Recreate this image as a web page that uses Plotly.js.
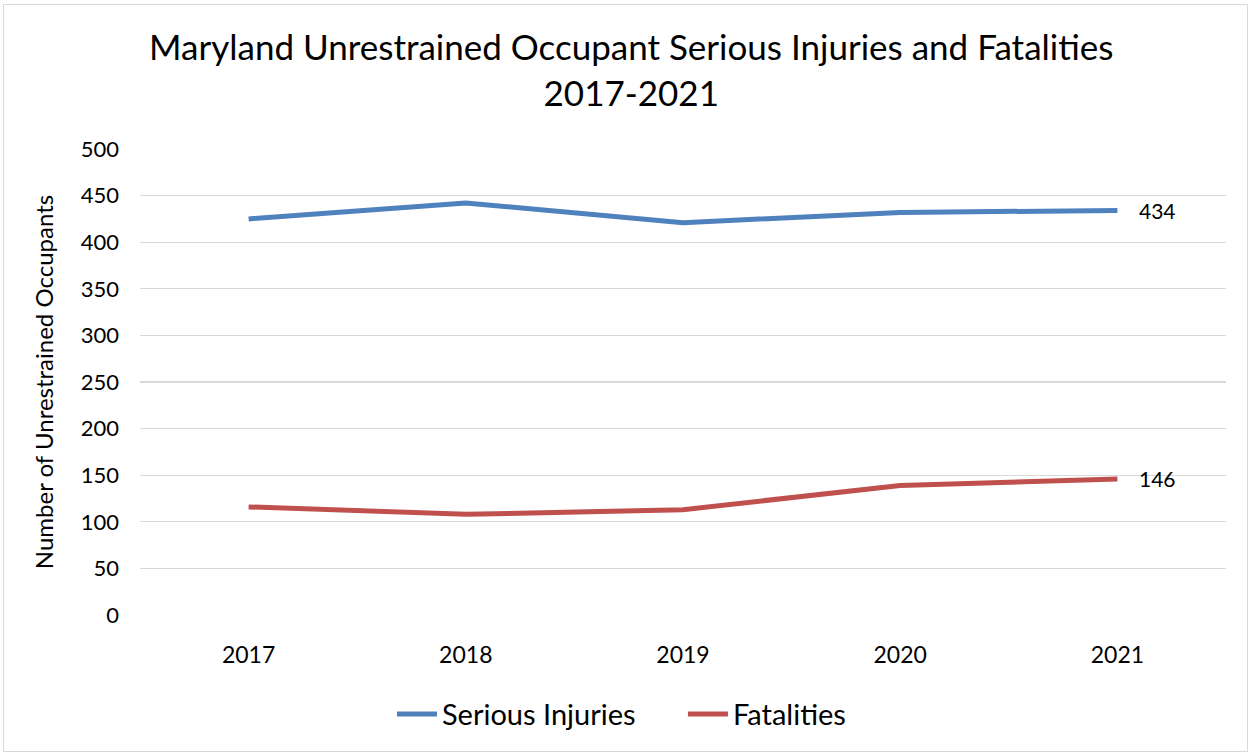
<!DOCTYPE html>
<html>
<head>
<meta charset="utf-8">
<script src="https://cdn.plot.ly/plotly-3.0.1.min.js"></script>
<style>
html,body{margin:0;padding:0;background:#fff;}
#wrap{position:relative;width:1250px;height:753px;}
#chart{width:1250px;height:753px;}
#frame{position:absolute;left:3px;top:4px;width:1243px;height:746px;border:1px solid #d9d9d9;pointer-events:none;}
</style>
</head>
<body>
<div id="wrap"><div id="chart"></div><div id="frame"></div></div>
<script>
const years = ['2017', '2018', '2019', '2020', '2021'];
const seriousInjuries = [425, 442, 421, 432, 434];
const fatalities = [116, 108, 113, 139, 146];
const yTicks = [0, 50, 100, 150, 200, 250, 300, 350, 400, 450, 500];

const FONT = 'Lato, "Open Sans", sans-serif';
const traces = [
  {x: years, y: seriousInjuries, type: 'scatter', mode: 'lines', name: 'Serious Injuries',
   line: {color: '#4F81BD', width: 5}},
  {x: years, y: fatalities, type: 'scatter', mode: 'lines', name: 'Fatalities',
   line: {color: '#C0504D', width: 5}}
];
const last = years.length - 1;
const layout = {
  width: 1250, height: 753,
  margin: {l: 140, r: 24, t: 149, b: 138},
  paper_bgcolor: '#fff', plot_bgcolor: '#fff',
  font: {family: FONT, color: '#000'},
  title: {text: 'Maryland Unrestrained Occupant Serious Injuries and Fatalities<br>2017-2021',
          font: {size: 35, family: FONT, color: '#000'}, x: 0.505, xanchor: 'center', y: 0.92, yanchor: 'top'},
  xaxis: {type: 'category', range: [-0.5, 4.5], showgrid: false, zeroline: false,
          showline: false, ticks: '', tickfont: {size: 23, family: FONT}, ticklabelstandoff: 24},
  yaxis: {range: [0, 500], tickvals: yTicks, ticktext: yTicks.map(String), showgrid: true,
          gridcolor: '#d9d9d9', gridwidth: 1.3, zeroline: false, showline: false, ticks: '',
          tickfont: {size: 22, family: FONT}, ticklabelstandoff: 20,
          title: {text: 'Number of Unrestrained Occupants', font: {size: 24, family: FONT}, standoff: 20}},
  showlegend: true,
  legend: {orientation: 'h', x: 0.232, xanchor: 'left', y: -0.2125, yanchor: 'middle',
           font: {size: 29, family: FONT}, itemwidth: 40, entrywidth: 236, entrywidthmode: 'pixels'},
  annotations: [
    {x: last, y: seriousInjuries[last], xref: 'x', yref: 'y', text: String(seriousInjuries[last]),
     showarrow: false, xanchor: 'left', xshift: 20, font: {size: 21, family: FONT, color: '#000'}},
    {x: last, y: fatalities[last], xref: 'x', yref: 'y', text: String(fatalities[last]),
     showarrow: false, xanchor: 'left', xshift: 20, font: {size: 21, family: FONT, color: '#000'}}
  ]
};
Plotly.newPlot('chart', traces, layout, {displayModeBar: false, staticPlot: true});
</script>
</body>
</html>
